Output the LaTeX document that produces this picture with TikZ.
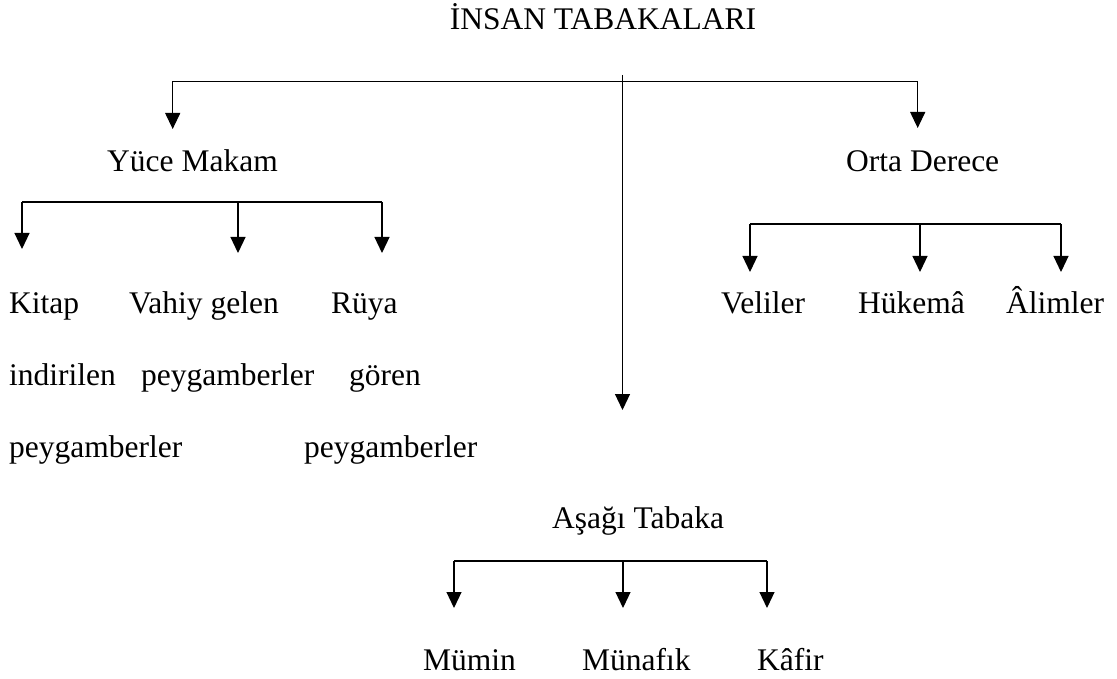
\documentclass[tikz,border=0pt]{standalone}
\usepackage{fontspec}
\setmainfont{Liberation Serif}
\usetikzlibrary{arrows.meta}

\tikzset{
  yazi/.style={anchor=base west, inner sep=0pt, font=\fontsize{31.5}{37}\selectfont},
  dal/.style={line width=1.2pt},
  ok/.style={dal, -{Triangle[width=15pt,length=16pt]}},
}

\begin{document}
\begin{tikzpicture}[x=1pt, y=-1pt, line cap=butt, line join=miter]

  %% ════ başlık ════
  \node[yazi, anchor=base] (baslik) at (603,30) {İNSAN TABAKALARI};

  %% ════ ana dallar ════
  \coordinate (ust)    at (622.5,75);
  \coordinate (usol)   at (172.7,81.5);
  \coordinate (usag)   at (917.7,81.5);
  \coordinate (yuceuc) at (172.7,129);
  \coordinate (ortauc) at (917.7,128);
  \coordinate (asagiuc) at (622.5,410);
  \draw[dal] (usol) -- (usag);
  \draw[ok] (usol) -- (yuceuc);
  \draw[ok] (usag) -- (ortauc);
  \draw[ok] (ust) -- (asagiuc);

  \node[yazi] (yuce) at (107,172) {Yüce Makam};
  \node[yazi] (orta) at (846,172) {Orta Derece};
  \node[yazi] (asagi) at (552,528) {Aşağı Tabaka};

  %% ════ Yüce Makam altı ════
  \coordinate (ysol)   at (22,202);
  \coordinate (yorta)  at (238,202);
  \coordinate (ysag)   at (382,202);
  \coordinate (ysoluc) at (22,249);
  \coordinate (yortauc) at (238,253);
  \coordinate (ysaguc) at (382,253);
  \draw[dal] (ysol) -- (ysag);
  \draw[ok] (ysol) -- (ysoluc);
  \draw[ok] (yorta) -- (yortauc);
  \draw[ok] (ysag) -- (ysaguc);

  \node[yazi] (kitap)  at (9,313)   {Kitap};
  \node[yazi] (kitap2) at (9,385)   {indirilen};
  \node[yazi] (kitap3) at (9,457)   {peygamberler};
  \node[yazi] (vahiy)  at (129,313) {Vahiy gelen};
  \node[yazi] (vahiy2) at (141,385) {peygamberler};
  \node[yazi] (ruya)   at (331,313) {Rüya};
  \node[yazi] (ruya2)  at (349,385) {gören};
  \node[yazi] (ruya3)  at (304,457) {peygamberler};

  %% ════ Orta Derece altı ════
  \coordinate (osol)   at (750,224);
  \coordinate (oorta)  at (920,224);
  \coordinate (osag)   at (1061,224);
  \coordinate (osoluc) at (750,272);
  \coordinate (oortauc) at (920,272);
  \coordinate (osaguc) at (1061,272);
  \draw[dal] (osol) -- (osag);
  \draw[ok] (osol) -- (osoluc);
  \draw[ok] (oorta) -- (oortauc);
  \draw[ok] (osag) -- (osaguc);

  \node[yazi] (veli)  at (721,313)  {Veliler};
  \node[yazi] (hukema) at (858,313) {Hükemâ};
  \node[yazi] (alim)  at (1006,313) {Âlimler};

  %% ════ Aşağı Tabaka altı ════
  \coordinate (asol)   at (454,561);
  \coordinate (aorta)  at (623,561);
  \coordinate (asag)   at (767,561);
  \coordinate (asoluc) at (454,608);
  \coordinate (aortauc) at (623,608);
  \coordinate (asaguc) at (767,608);
  \draw[dal] (asol) -- (asag);
  \draw[ok] (asol) -- (asoluc);
  \draw[ok] (aorta) -- (aortauc);
  \draw[ok] (asag) -- (asaguc);

  \node[yazi] (mumin)  at (423,670) {Mümin};
  \node[yazi] (munafik) at (582,670) {Münafık};
  \node[yazi] (kafir)  at (757,670) {Kâfir};

  % tuval sabit
  \pgfresetboundingbox
  \path[use as bounding box] (0,0) rectangle (1117,679);
\end{tikzpicture}
\end{document}
